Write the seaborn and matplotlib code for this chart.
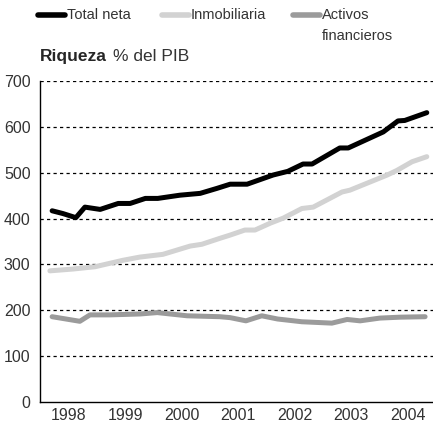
import matplotlib

matplotlib.use('Agg')

import matplotlib.pyplot as plt
from matplotlib.lines import Line2D
import seaborn as sns
import pandas as pd

# Riqueza, % del PIB
total_x = [
    1998.21, 1998.40, 1998.63, 1998.79, 1999.06, 1999.38, 1999.59, 1999.86,
    2000.08, 2000.47, 2000.83, 2001.13, 2001.36, 2001.66, 2002.12, 2002.38,
    2002.65, 2002.81, 2003.30, 2003.45, 2004.07, 2004.33, 2004.45, 2004.84,
]
total_y = [
    417, 411, 402, 425, 420, 433, 433, 444,
    444, 451, 455, 466, 475, 475, 495, 503,
    519, 519, 554, 554, 589, 613, 614, 631,
]

inmob_x = [
    1998.17, 1998.58, 1998.97, 1999.46, 1999.76, 2000.17, 2000.65, 2000.86,
    2001.18, 2001.36, 2001.62, 2001.80, 2002.07, 2002.30, 2002.63, 2002.83,
    2003.00, 2003.34, 2003.48, 2004.14, 2004.31, 2004.58, 2004.84,
]
inmob_y = [
    286, 290, 295, 309, 316, 322, 340, 344,
    357, 364, 375, 375, 390, 401, 422, 425,
    436, 458, 462, 495, 505, 524, 535,
]

activos_x = [
    1998.21, 1998.70, 1998.88, 1999.23, 1999.77, 2000.07, 2000.60, 2001.18,
    2001.36, 2001.64, 2001.92, 2002.20, 2002.63, 2003.16, 2003.43, 2003.66,
    2004.01, 2004.37, 2004.81,
]
activos_y = [
    186, 176, 190, 190, 192, 195, 188, 186,
    184, 177, 188, 181, 175, 172, 180, 177,
    183, 185, 186,
]

series_names = ['Total neta', 'Inmobiliaria', 'Activos\nfinancieros']
series_colors = ['#000000', '#d2d2d2', '#9b9b9b']
year_labels = ['1998', '1999', '2000', '2001', '2002', '2003', '2004']
y_ticks = [0, 100, 200, 300, 400, 500, 600, 700]

df = pd.concat([
    pd.DataFrame({'x': total_x, 'y': total_y, 'serie': series_names[0]}),
    pd.DataFrame({'x': inmob_x, 'y': inmob_y, 'serie': series_names[1]}),
    pd.DataFrame({'x': activos_x, 'y': activos_y, 'serie': series_names[2]}),
])

sns.set_style('white')
plt.rcParams['font.family'] = ['Liberation Sans', 'DejaVu Sans']

fig = plt.figure(
    figsize=(4.33, 4.22),
    dpi=100,
)

ax = fig.add_axes([0.093, 0.0474, 0.907, 0.7606])

sns.lineplot(
    data=df,
    x='x',
    y='y',
    hue='serie',
    hue_order=series_names,
    palette=dict(zip(series_names, series_colors)),
    estimator=None,
    sort=False,
    linewidth=3.6,
    solid_capstyle='round',
    solid_joinstyle='round',
    legend=False,
    ax=ax,
)

# dibujar la linea negra encima
for ln in ax.get_lines():
    if ln.get_color() in ('#000000', 'k', (0.0, 0.0, 0.0)):
        ln.set_zorder(5)

ax.set_xlim(1998.0, 2004.95)
ax.set_ylim(0, 700)

ax.set_yticks(y_ticks)
ax.set_yticklabels([str(v) for v in y_ticks])

ax.set_xticks([1999, 2000, 2001, 2002, 2003, 2004])
ax.set_xticklabels([])
ax.set_xticks([y + 0.5 for y in range(1998, 2005)], minor=True)
ax.set_xticklabels(year_labels, minor=True)

ax.tick_params(
    axis='x',
    which='major',
    direction='in',
    length=7,
    width=0.9,
    color='#333333',
)
ax.tick_params(
    axis='x',
    which='minor',
    length=0,
    pad=4,
    labelsize=11.5,
    labelcolor='#333333',
)
ax.tick_params(
    axis='y',
    length=0,
    pad=7,
    labelsize=11.5,
    labelcolor='#333333',
)

for v in y_ticks[1:]:
    ax.axhline(
        v,
        color='black',
        linewidth=0.9,
        linestyle=(0, (2.6, 2.6)),
        zorder=1,
    )

ax.set_xlabel('')
ax.set_ylabel('')

for side in ['top', 'right']:
    ax.spines[side].set_visible(False)
for side in ['left', 'bottom']:
    ax.spines[side].set_color('black')
    ax.spines[side].set_linewidth(1.0)

# leyenda manual arriba
legend_x = [0.088, 0.374, 0.677]
for x0, name, color in zip(legend_x, series_names, series_colors):
    fig.add_artist(Line2D(
        [x0, x0 + 0.063],
        [0.9645, 0.9645],
        color=color,
        linewidth=4.0,
        solid_capstyle='round',
        transform=fig.transFigure,
    ))
    fig.text(
        x0 + 0.067,
        0.981,
        name,
        fontsize=10.5,
        color='#333333',
        va='top',
        ha='left',
        linespacing=1.6,
    )

fig.text(
    0.093,
    0.865,
    'Riqueza',
    fontsize=12.5,
    fontweight='bold',
    va='center',
    ha='left',
)
fig.text(
    0.261,
    0.865,
    '% del PIB',
    fontsize=12.5,
    color='#333333',
    va='center',
    ha='left',
)

fig.savefig('out.png', dpi=100)
plt.close()
